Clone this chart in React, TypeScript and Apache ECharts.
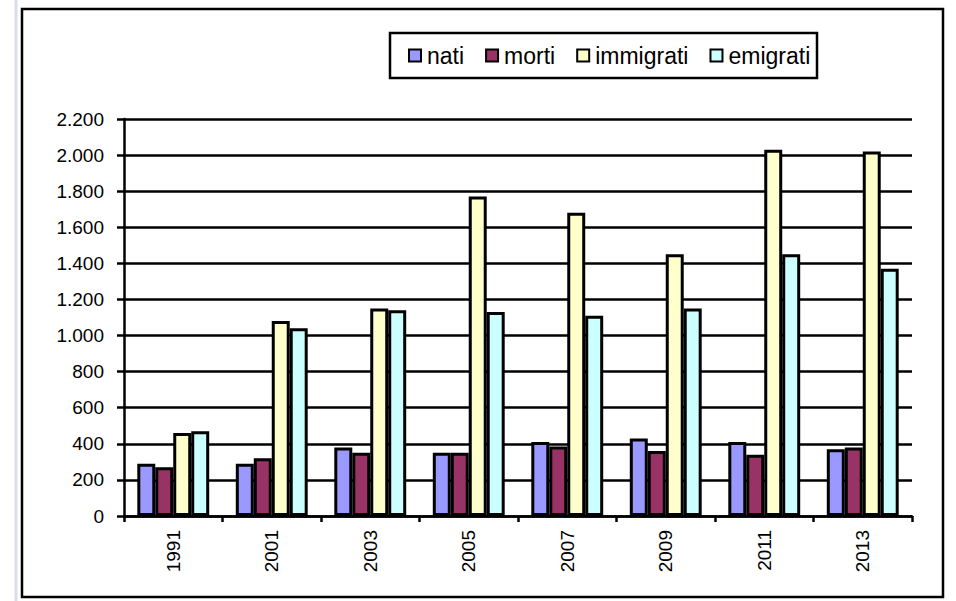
import React, { useEffect, useRef } from "react";
import * as echarts from "echarts";

const categories = ["1991", "2001", "2003", "2005", "2007", "2009", "2011", "2013"];
const nati = [290, 290, 380, 350, 410, 430, 410, 370];
const morti = [270, 320, 350, 350, 385, 360, 340, 380];
const immigrati = [460, 1080, 1150, 1770, 1680, 1450, 2030, 2020];
const emigrati = [470, 1040, 1140, 1130, 1110, 1150, 1450, 1370];
const seriesNames = ["nati", "morti", "immigrati", "emigrati"];
const seriesColors = ["#9999FF", "#993366", "#FFFFCC", "#CCFFFF"];

const FONT = "'Liberation Sans', Arial, sans-serif";

function fmt(v: number): string {
  return String(v).replace(/\B(?=(\d{3})+(?!\d))/g, ".");
}

export default function App() {
  const ref = useRef<HTMLDivElement>(null);
  useEffect(() => {
    if (!ref.current) return;
    const chart = echarts.init(ref.current, undefined, { renderer: "svg" });
    const datasets = [nati, morti, immigrati, emigrati];
    chart.setOption({
      animation: false,
      backgroundColor: "#ffffff",
      textStyle: { fontFamily: FONT },
      graphic: [
        {
          type: "line",
          shape: { x1: 16, y1: 0, x2: 16, y2: 601 },
          style: { stroke: "#d9dded", lineWidth: 3 },
          silent: true,
        },
        {
          type: "rect",
          shape: { x: 22, y: 9, width: 921, height: 588 },
          style: { fill: "none", stroke: "#000", lineWidth: 2.5 },
          silent: true,
          z: -1,
        },
        {
          type: "rect",
          shape: { x: 390, y: 33, width: 427, height: 45 },
          style: { fill: "#fff", stroke: "#000", lineWidth: 2.5 },
          silent: true,
          z: -1,
        },
      ],
      legend: {
        left: 408,
        top: 44,
        padding: 0,
        itemWidth: 12,
        itemHeight: 12,
        itemGap: 21,
        icon: "rect",
        data: seriesNames.map((n) => ({ name: n, itemStyle: { borderColor: "#000", borderWidth: 2 } })),
        textStyle: { fontSize: 23, color: "#000", fontFamily: FONT, padding: [0, 0, 0, 1] },
      },
      grid: { left: 124, right: 44, top: 119, bottom: 85, containLabel: false },
      xAxis: {
        type: "category",
        data: categories,
        axisLine: { show: true, lineStyle: { color: "#000", width: 2.5 } },
        axisTick: { show: true, length: 6, lineStyle: { color: "#000", width: 2.5 } },
        axisLabel: {
          rotate: 90,
          margin: 14,
          fontSize: 19,
          color: "#000",
          fontFamily: FONT,
        },
      },
      yAxis: {
        type: "value",
        min: 0,
        max: 2200,
        interval: 200,
        axisLine: { show: true, lineStyle: { color: "#000", width: 2.5 } },
        axisTick: { show: true, length: 7, lineStyle: { color: "#000", width: 2.5 } },
        splitLine: { show: true, lineStyle: { color: "#000", width: 2.5 } },
        axisLabel: {
          margin: 20,
          fontSize: 19,
          color: "#000",
          fontFamily: FONT,
          formatter: (v: number) => fmt(v),
        },
      },
      series: seriesNames.map((name, i) => ({
        name,
        type: "bar",
        data: datasets[i],
        barGap: "0%",
        barCategoryGap: "27%",
        itemStyle: { color: seriesColors[i], borderColor: "#000", borderWidth: 3 },
      })),
    });
    return () => chart.dispose();
  }, []);
  return (
    <div
      ref={ref}
      style={{ position: "fixed", left: 0, top: 0, width: 956, height: 601 }}
    />
  );
}
